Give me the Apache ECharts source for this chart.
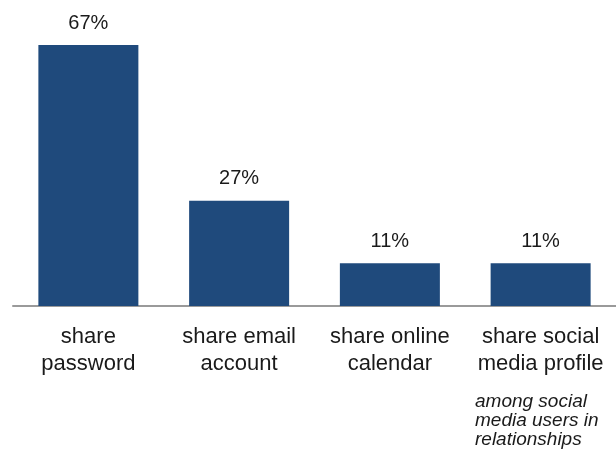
<!DOCTYPE html>
<html>
<head>
<meta charset="utf-8">
<script src="https://cdn.jsdelivr.net/npm/echarts@6/dist/echarts.min.js"></script>
<style>
html,body{margin:0;padding:0;background:#fff;}
#chart{width:616px;height:451px;}
</style>
</head>
<body>
<div id="chart"></div>
<script>
var categories = ['share\npassword', 'share email\naccount', 'share online\ncalendar', 'share social\nmedia profile'];
var values = [67, 27, 11, 11];
var note = 'among social\nmedia users in\nrelationships';

var chart = echarts.init(document.getElementById('chart'), null, {renderer: 'canvas'});
chart.setOption({
  animation: false,
  backgroundColor: '#ffffff',
  grid: {left: 13, right: 0, top: 45, bottom: 145},
  xAxis: {
    type: 'category',
    data: categories,
    axisLine: {lineStyle: {color: '#9a9a9a', width: 2}},
    axisTick: {show: false},
    axisLabel: {
      color: '#1a1a1a',
      fontFamily: 'Liberation Sans',
      fontSize: 22,
      lineHeight: 27,
      margin: 17,
      interval: 0
    }
  },
  yAxis: {
    type: 'value',
    min: 0,
    max: Math.max.apply(null, values),
    show: false,
    splitLine: {show: false}
  },
  series: [{
    type: 'bar',
    data: values,
    barWidth: 100,
    itemStyle: {color: '#1f4a7c'},
    label: {
      show: true,
      position: 'top',
      distance: 12,
      formatter: '{c}%',
      color: '#1a1a1a',
      fontFamily: 'Liberation Sans',
      fontSize: 20
    }
  }],
  graphic: [{
    type: 'text',
    left: 475,
    top: 392,
    style: {
      text: note,
      font: 'italic 19px "Liberation Sans"',
      lineHeight: 19,
      fill: '#1a1a1a'
    }
  }]
});
</script>
</body>
</html>
